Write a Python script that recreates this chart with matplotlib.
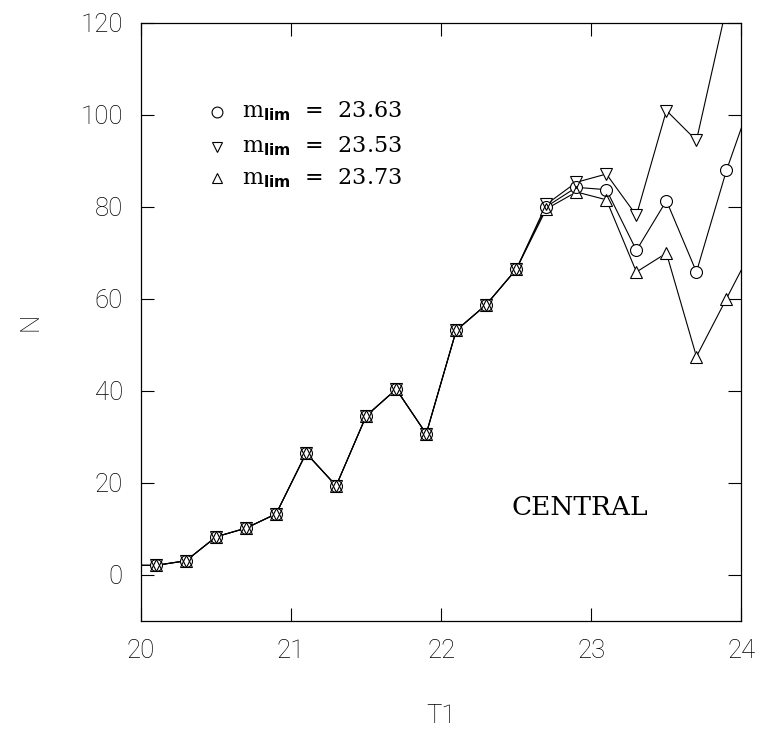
import matplotlib
matplotlib.use("Agg")
import matplotlib.pyplot as plt

# Galaxy counts N per T1 magnitude bin for three limiting magnitudes
t1_bins = [19.9, 20.1, 20.3, 20.5, 20.7, 20.9, 21.1, 21.3, 21.5, 21.7, 21.9,
           22.1, 22.3, 22.5, 22.7, 22.9, 23.1, 23.3, 23.5, 23.7, 23.9, 24.1]

n_2363 = [2.0, 2.0, 3.0, 8.2, 10.1, 13.2, 26.4, 19.3, 34.5, 40.3, 30.6,
          53.1, 58.7, 66.4, 80.0, 84.2, 83.7, 70.5, 81.3, 65.8, 87.9, 106.5]
n_2353 = [2.0, 2.0, 3.0, 8.2, 10.1, 13.2, 26.4, 19.3, 34.5, 40.3, 30.6,
          53.1, 58.7, 66.4, 80.5, 85.3, 87.1, 78.1, 100.9, 94.4, 123.4]
n_2373 = [2.0, 2.0, 3.0, 8.2, 10.1, 13.2, 26.4, 19.3, 34.5, 40.3, 30.6,
          53.1, 58.7, 66.4, 79.5, 83.2, 81.5, 65.8, 69.9, 47.4, 60.0, 72.6]

m_lim = ["23.63", "23.53", "23.73"]
markers = ["o", "v", "^"]
series = [n_2363, n_2353, n_2373]

x_ticks = [20, 21, 22, 23, 24]
y_ticks = [0, 20, 40, 60, 80, 100, 120]
field_label = "CENTRAL"

plt.rcParams["mathtext.fontset"] = "custom"
plt.rcParams["mathtext.rm"] = "DejaVu Serif"
plt.rcParams["mathtext.bf"] = "DejaVu Sans:bold"

fig = plt.figure(figsize=(7.63, 7.29), dpi=100)
ax = fig.add_axes([0.1848, 0.1488, 0.7870, 0.8200])

ink = "black"
ms = 8.6
for vals, mk in zip(series, markers):
    xs = t1_bins[:len(vals)]
    ax.plot(xs, vals, color=ink, lw=0.8, zorder=2)
# white-filled markers hide the connecting lines, hollow ones on top keep every outline
for vals, mk in zip(series, markers):
    xs = t1_bins[:len(vals)]
    ax.plot(xs, vals, ls="none", marker=mk, ms=ms, mfc="white",
            mec="white", mew=0, zorder=3)
for vals, mk in zip(series, markers):
    xs = t1_bins[:len(vals)]
    ax.plot(xs, vals, ls="none", marker=mk, ms=ms, mfc="none",
            mec=ink, mew=0.8, zorder=4)

ax.set_xlim(20, 24)
ax.set_ylim(-10, 120)
ax.set_xticks(x_ticks)
ax.set_yticks(y_ticks)

tick_font = dict(family="Roboto", weight="light", size=18.5)
ax.set_xticklabels([str(v) for v in x_ticks], fontdict=tick_font, color=ink)
ax.set_yticklabels([str(v) for v in y_ticks], fontdict=tick_font, color=ink)
ax.tick_params(axis="both", direction="in", length=9.4, width=0.8,
               top=True, right=True)
ax.tick_params(axis="x", pad=13)
ax.tick_params(axis="y", pad=13)
for sp in ax.spines.values():
    sp.set_linewidth(0.9)

ax.set_xlabel("T1", fontdict=tick_font, color=ink, labelpad=30)
ax.set_ylabel("N", fontdict=tick_font, color=ink, labelpad=27)

# legend rows
row_y = [0.8414, 0.7829, 0.7302]
for mk, lab, yy in zip(markers, m_lim, row_y):
    ax.plot([0.1266], [yy + 0.010], transform=ax.transAxes, ls="none",
            marker=mk, ms=7.8, mfc="none", mec=ink, mew=0.8, clip_on=False)
    ax.text(0.168, yy, r"$\mathrm{m}_{\mathbf{lim}}$  =  " + lab,
            transform=ax.transAxes, fontsize=16, family="DejaVu Serif",
            ha="left", va="baseline", color=ink)

ax.text(22.92, 12.94, field_label, fontsize=19, family="DejaVu Serif",
        ha="center", va="baseline", color=ink)

fig.savefig("out.png", dpi=100)
